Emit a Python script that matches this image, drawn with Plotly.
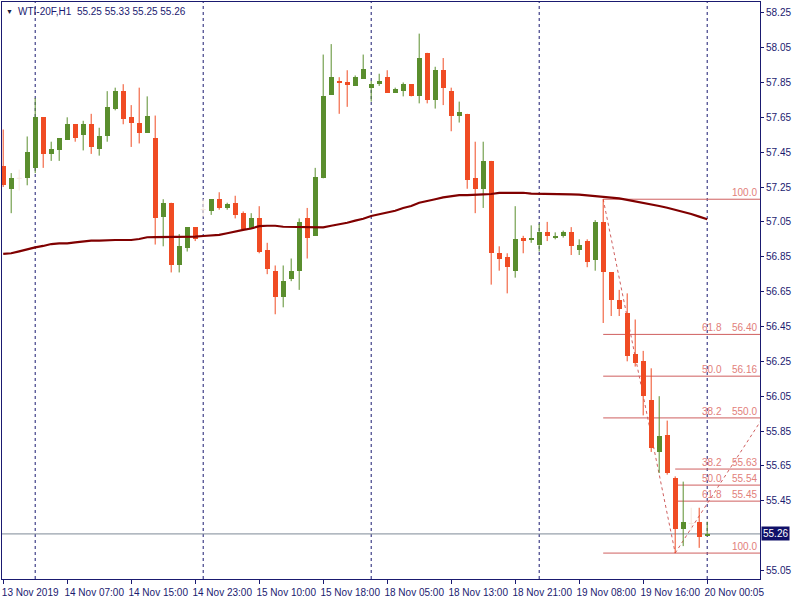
import plotly.graph_objects as go

# ---------------- data ----------------
opens = [57.37, 57.24, 57.30, 57.30, 57.36, 57.65, 57.44, 57.46, 57.52, 57.61,
         57.55, 57.61, 57.47, 57.54, 57.70, 57.80, 57.65, 57.62, 57.56, 57.53,
         57.08, 57.16, 56.80, 56.90, 57.02, 57.12, 57.11, 57.18, 57.13, 57.16,
         57.10, 57.01, 57.07, 56.89, 56.77, 56.62, 56.72, 56.77, 57.07, 56.97,
         57.30, 57.78, 57.86, 57.85, 57.83, 57.87, 57.82, 57.84, 57.88, 57.79,
         57.80, 57.84, 57.77, 58.02, 57.75, 57.92, 57.80, 57.66, 57.67, 57.30,
         57.24, 57.40, 56.87, 56.85, 56.77, 56.96, 56.95, 56.92, 56.99, 56.96,
         56.97, 56.99, 56.89, 56.94, 56.83, 57.05, 56.76, 56.60, 56.53, 56.29,
         56.25, 56.03, 55.73, 55.83, 55.58, 55.29, 55.32, 55.33, 55.25]
highs = [57.58, 57.33, 57.35, 57.54, 57.76, 57.65, 57.51, 57.53, 57.65, 57.61,
         57.63, 57.67, 57.59, 57.80, 57.82, 57.84, 57.72, 57.82, 57.77, 57.66,
         57.18, 57.16, 56.98, 57.02, 57.02, 57.18, 57.18, 57.22, 57.16, 57.20,
         57.11, 57.10, 57.14, 56.93, 56.80, 56.80, 56.84, 57.07, 57.13, 57.36,
         58.01, 58.07, 57.88, 57.92, 57.89, 58.01, 57.86, 57.90, 57.92, 57.82,
         57.85, 57.84, 58.13, 58.02, 57.94, 57.99, 57.82, 57.74, 57.67, 57.51,
         57.51, 57.40, 56.91, 56.87, 57.14, 56.97, 57.03, 57.04, 57.05, 56.99,
         57.00, 57.02, 56.95, 56.95, 57.06, 57.18, 56.76, 56.66, 56.64, 56.49,
         56.31, 56.21, 56.05, 55.91, 55.59, 55.56, 55.41, 55.41, 55.33]
lows = [57.25, 57.10, 57.23, 57.26, 57.33, 57.36, 57.40, 57.40, 57.52, 57.51,
        57.46, 57.44, 57.43, 57.51, 57.69, 57.61, 57.48, 57.50, 57.56, 56.92,
        56.91, 56.76, 56.76, 56.88, 56.94, 57.08, 57.09, 57.12, 57.12, 57.07,
        57.00, 57.01, 56.87, 56.75, 56.52, 56.56, 56.71, 56.66, 56.84, 56.97,
        57.30, 57.78, 57.67, 57.71, 57.83, 57.87, 57.74, 57.83, 57.79, 57.79,
        57.77, 57.77, 57.73, 57.73, 57.70, 57.72, 57.57, 57.62, 57.24, 57.10,
        57.13, 56.69, 56.77, 56.64, 56.73, 56.87, 56.93, 56.88, 56.94, 56.95,
        56.96, 56.86, 56.86, 56.79, 56.77, 56.47, 56.51, 56.51, 56.25, 56.22,
        55.94, 55.73, 55.61, 55.60, 55.15, 55.19, 55.28, 55.18, 55.25]
closes = [57.26, 57.30, 57.30, 57.45, 57.65, 57.44, 57.47, 57.53, 57.61, 57.53,
          57.61, 57.48, 57.54, 57.71, 57.80, 57.64, 57.62, 57.56, 57.66, 57.07,
          57.16, 56.80, 56.91, 57.02, 56.95, 57.12, 57.18, 57.13, 57.15, 57.09,
          57.01, 57.07, 56.88, 56.78, 56.62, 56.71, 56.77, 57.05, 56.96, 57.31,
          57.77, 57.88, 57.85, 57.84, 57.88, 57.93, 57.84, 57.86, 57.79, 57.81,
          57.84, 57.77, 57.99, 57.75, 57.92, 57.82, 57.66, 57.68, 57.29, 57.24,
          57.40, 56.87, 56.84, 56.79, 56.95, 56.94, 56.96, 56.99, 56.97, 56.97,
          56.99, 56.91, 56.92, 56.82, 57.05, 56.76, 56.60, 56.55, 56.28, 56.24,
          56.05, 55.75, 55.82, 55.61, 55.29, 55.33, 55.32, 55.24, 55.26]
ma_values = [56.866, 56.870, 56.881, 56.893, 56.904, 56.912, 56.923, 56.927, 56.927, 56.933,
             56.939, 56.942, 56.942, 56.946, 56.946, 56.946, 56.946, 56.952, 56.962, 56.963,
             56.963, 56.963, 56.963, 56.963, 56.965, 56.969, 56.973, 56.976, 56.985, 56.996,
             57.004, 57.012, 57.026, 57.028, 57.028, 57.022, 57.021, 57.021, 57.021, 57.019,
             57.019, 57.028, 57.036, 57.045, 57.057, 57.068, 57.084, 57.095, 57.103, 57.114,
             57.130, 57.141, 57.160, 57.172, 57.180, 57.191, 57.199, 57.203, 57.204, 57.208,
             57.208, 57.210, 57.216, 57.217, 57.217, 57.217, 57.212, 57.212, 57.212, 57.212,
             57.212, 57.208, 57.206, 57.203, 57.200, 57.193, 57.189, 57.185, 57.176, 57.168,
             57.160, 57.151, 57.141, 57.131, 57.120, 57.108, 57.095, 57.080, 57.065]

tick_labels = ["13 Nov 2019", "14 Nov 07:00", "14 Nov 15:00", "14 Nov 23:00",
               "15 Nov 10:00", "15 Nov 18:00", "18 Nov 05:00", "18 Nov 13:00",
               "18 Nov 21:00", "19 Nov 08:00", "19 Nov 16:00", "20 Nov 00:05"]
price_ticks = [58.25, 58.05, 57.85, 57.65, 57.45, 57.25, 57.05, 56.85, 56.65,
               56.45, 56.25, 56.05, 55.85, 55.65, 55.45, 55.05]

symbol_title = "WTI-20F,H1"
current_price = 55.26

# Fibonacci objects: (start bar, end bar, 100-level price, 0-level price)
fib1_bars = [75, 84]
fib1_prices = [57.18, 55.15]
fib1_levels = [61.8, 50.0, 38.2]
fib1_texts = ["56.40", "56.16", "550.0"]
fib2_bars = [84, 95]
fib2_prices = [55.15, 55.93]
fib2_levels = [38.2, 50.0, 61.8]
fib2_texts = ["55.63", "55.54", "55.45"]

# ---------------- styles ----------------
UP = "#5a8e2e"
DOWN = "#f04c24"
DOJI = "#f5e6dc"
NAVY = "#1a1a70"
FIB = "#cf5f5f"
FIBTXT = "#e2807a"
MA = "#800000"
FONT = "Liberation Sans"

n = len(opens)
X_MIN, X_MAX = -0.15, 94.6
Y_MIN, Y_MAX = 55.0013, 58.3115
BODY_W = 0.625

fig = go.Figure()

# wicks
for color, sel in ((UP, lambda o, c: c > o), (DOWN, lambda o, c: c < o), (DOJI, lambda o, c: c == o)):
    xs, ys = [], []
    for i in range(n):
        if sel(opens[i], closes[i]):
            xs += [i, i, None]
            ys += [lows[i], highs[i], None]
    fig.add_trace(go.Scatter(x=xs, y=ys, mode="lines", line=dict(color=color, width=1),
                             hoverinfo="skip", showlegend=False))

# bodies
for color, sel in ((UP, lambda o, c: c > o), (DOWN, lambda o, c: c < o)):
    idx = [i for i in range(n) if sel(opens[i], closes[i])]
    fig.add_trace(go.Bar(x=idx, y=[abs(closes[i] - opens[i]) for i in idx],
                         base=[min(opens[i], closes[i]) for i in idx],
                         width=BODY_W, marker=dict(color=color, line=dict(width=0)),
                         showlegend=False, hoverinfo="skip"))

# doji bodies (horizontal tick)
dx, dy = [], []
for i in range(n):
    if opens[i] == closes[i]:
        dx += [i - BODY_W / 2, i + BODY_W / 2, None]
        dy += [opens[i], opens[i], None]
fig.add_trace(go.Scatter(x=dx, y=dy, mode="lines", line=dict(color=DOJI, width=1),
                         hoverinfo="skip", showlegend=False))

# moving average
fig.add_trace(go.Scatter(x=list(range(n)), y=ma_values, mode="lines",
                         line=dict(color=MA, width=2.2), hoverinfo="skip", showlegend=False))

shapes = []
# dashed vertical grid
for g in range(4, n, 21):
    shapes.append(dict(type="line", xref="x", yref="paper", x0=g, x1=g, y0=0, y1=1,
                       line=dict(color=NAVY, width=1, dash="3px,3px"), layer="below"))
# current price line
shapes.append(dict(type="line", xref="paper", yref="y", x0=0, x1=1, y0=current_price, y1=current_price,
                   line=dict(color="#7d8a96", width=1), layer="below"))

annotations = []


def fib_value(p100, p0, lvl):
    return p0 + (p100 - p0) * lvl / 100.0


def fib_label(x, p, txt):
    annotations.append(dict(x=x, y=p, xref="x", yref="y", text=txt, showarrow=False,
                            xanchor="right", yanchor="bottom", yshift=-1,
                            font=dict(family=FONT, size=10, color=FIBTXT)))


# fib 1
h1, l1 = fib1_prices
for p in (h1, l1):
    shapes.append(dict(type="line", xref="x", yref="y", x0=fib1_bars[0], x1=X_MAX, y0=p, y1=p,
                       line=dict(color=FIB, width=1), layer="below"))
for lvl, txt in zip(fib1_levels, fib1_texts):
    p = fib_value(h1, l1, lvl)
    shapes.append(dict(type="line", xref="x", yref="y", x0=fib1_bars[0], x1=X_MAX, y0=p, y1=p,
                       line=dict(color=FIB, width=1), layer="below"))
    fib_label(90.1, p, f"{lvl:.1f}")
    fib_label(94.5, p, txt)
shapes.append(dict(type="line", xref="x", yref="y", x0=fib1_bars[0], x1=fib1_bars[1], y0=h1, y1=l1,
                   line=dict(color=FIB, width=1, dash="dot"), layer="below"))
fib_label(94.5, h1, "100.0")

# fib 2
l2, t2 = fib2_prices
for lvl, txt in zip(fib2_levels, fib2_texts):
    p = fib_value(l2, t2, lvl)
    shapes.append(dict(type="line", xref="x", yref="y", x0=fib2_bars[0], x1=X_MAX, y0=p, y1=p,
                       line=dict(color=FIB, width=1), layer="below"))
    fib_label(90.1, p, f"{lvl:.1f}")
    fib_label(94.5, p, txt)
shapes.append(dict(type="line", xref="x", yref="y", x0=fib2_bars[0], x1=fib2_bars[1], y0=l2, y1=t2,
                   line=dict(color=FIB, width=1, dash="dot"), layer="below"))
fib_label(94.5, l2, "100.0")

# current price box
annotations.append(dict(x=1, y=current_price, xref="paper", yref="y", text=f"{current_price:.2f}",
                        showarrow=False, xanchor="left", yanchor="middle", xshift=1,
                        bgcolor="#101068", borderpad=1,
                        font=dict(family=FONT, size=10, color="white")))

# header
header = f"{symbol_title}  {opens[-1]:.2f} {highs[-1]:.2f} {lows[-1]:.2f} {closes[-1]:.2f}"
annotations.append(dict(x=0, y=1, xref="paper", yref="paper", text=header, showarrow=False,
                        xanchor="left", yanchor="top", xshift=14, yshift=-2,
                        font=dict(family=FONT, size=10, color=NAVY)))
annotations.append(dict(x=0, y=1, xref="paper", yref="paper", text="▼", showarrow=False,
                        xanchor="left", yanchor="top", xshift=2, yshift=-4,
                        font=dict(family=FONT, size=7, color="#202040")))

fig.update_layout(
    width=800, height=600,
    margin=dict(l=2, r=40, t=2, b=21),
    paper_bgcolor="white", plot_bgcolor="white",
    showlegend=False, barmode="overlay", bargap=0,
    shapes=shapes, annotations=annotations,
    font=dict(family=FONT, size=10, color=NAVY),
    xaxis=dict(range=[X_MIN, X_MAX], showgrid=False, zeroline=False,
               tickmode="array", tickvals=list(range(0, n, 8)), ticktext=tick_labels,
               ticks="outside", ticklen=4, tickcolor=NAVY, tickwidth=1,
               showline=True, linecolor=NAVY, linewidth=1, mirror=True,
               tickfont=dict(family=FONT, size=10, color=NAVY), ticklabelshift=27),
    yaxis=dict(range=[Y_MIN, Y_MAX], side="right", showgrid=False, zeroline=False,
               tickmode="array", tickvals=price_ticks, ticktext=[f"{v:.2f}" for v in price_ticks],
               ticks="outside", ticklen=3, tickcolor=NAVY, tickwidth=1,
               showline=True, linecolor=NAVY, linewidth=1, mirror=True,
               tickfont=dict(family=FONT, size=10, color=NAVY)),
)

fig.write_html("out.html", config={"displayModeBar": False},
               post_script="document.body.style.margin='0';document.body.style.overflow='hidden';")
